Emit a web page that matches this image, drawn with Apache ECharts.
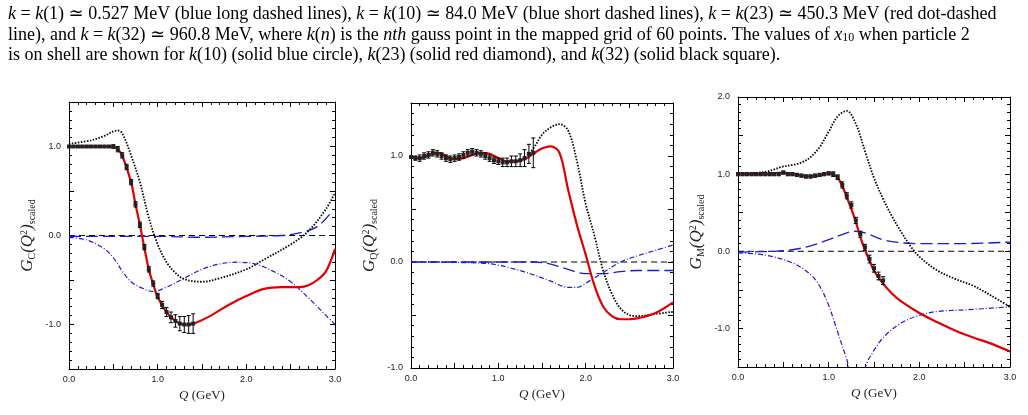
<!DOCTYPE html>
<html><head><meta charset="utf-8">
<script src="https://cdn.jsdelivr.net/npm/echarts@6/dist/echarts.min.js"></script>
<style>html,body{margin:0;padding:0;background:#fff}#c{width:1028px;height:415px}</style>
</head><body><div id="c"></div>
<script>
// ---- data ----
const gcFull=[[0,1.03],[0.25,1.07],[0.4,1.12],[0.5,1.17],[0.55,1.18],[0.6,1.15],[0.7,0.9],[0.8,0.6],[0.9,0.2],[1.0,-0.1],[1.1,-0.3],[1.2,-0.42],[1.3,-0.49],[1.5,-0.52],[1.7,-0.48],[2.0,-0.38],[2.2,-0.27],[2.5,-0.1],[2.7,0.05],[2.9,0.3],[3.0,0.48]];
const gcRed=[[0,1.0],[0.5,1.0],[0.55,0.97],[0.6,0.9],[0.7,0.6],[0.75,0.35],[0.8,0.12],[0.85,-0.14],[0.9,-0.38],[0.95,-0.55],[1.0,-0.69],[1.1,-0.86],[1.2,-0.96],[1.3,-1.0],[1.4,-0.99],[1.6,-0.9],[1.8,-0.78],[2.0,-0.68],[2.2,-0.6],[2.4,-0.58],[2.6,-0.58],[2.7,-0.56],[2.8,-0.5],[2.9,-0.4],[3.0,-0.15]];
const gcLong=[[0,-0.01],[1.0,-0.01],[1.5,-0.02],[2.0,-0.01],[2.4,0.0],[2.6,0.03],[2.8,0.1],[2.95,0.25]];
const gcDotDash=[[0,-0.02],[0.2,-0.05],[0.4,-0.15],[0.5,-0.25],[0.6,-0.4],[0.7,-0.52],[0.8,-0.58],[0.95,-0.63],[1.1,-0.58],[1.3,-0.48],[1.5,-0.38],[1.7,-0.32],[1.9,-0.3],[2.1,-0.32],[2.3,-0.4],[2.5,-0.52],[2.7,-0.7],[2.9,-0.9],[3.0,-1.0]];
const gcPtsX=[0,0.05,0.1,0.15,0.2,0.25,0.3,0.35,0.4,0.45,0.5,0.55,0.6,0.65,0.7,0.75,0.8,0.85,0.9,0.95,1.0,1.05,1.1,1.15,1.2,1.25,1.3,1.35,1.4];
const gcPtsY=[1,1,1,1,1,1,1,1,1,1,1,0.97,0.9,0.77,0.6,0.35,0.12,-0.13,-0.38,-0.54,-0.68,-0.78,-0.86,-0.92,-0.96,-0.99,-1.0,-1.0,-0.99];
const gcPtsE=[0.01,0.01,0.01,0.01,0.01,0.01,0.01,0.01,0.01,0.01,0.02,0.03,0.03,0.03,0.03,0.03,0.03,0.03,0.03,0.03,0.03,0.04,0.05,0.06,0.07,0.08,0.09,0.1,0.11];

const gqFull=[[0,0.99],[0.1,0.98],[0.3,1.03],[0.5,0.97],[0.6,0.98],[0.8,1.03],[0.9,1.02],[1.0,0.98],[1.1,0.95],[1.2,0.95],[1.3,0.98],[1.4,1.07],[1.5,1.2],[1.6,1.27],[1.7,1.3],[1.8,1.24],[1.9,0.95],[2.0,0.55],[2.1,0.25],[2.2,-0.08],[2.3,-0.3],[2.4,-0.44],[2.5,-0.5],[2.6,-0.51],[2.8,-0.49],[3.0,-0.47]];
const gqRed=[[0,0.99],[0.1,0.98],[0.3,1.03],[0.5,0.97],[0.6,0.98],[0.8,1.03],[0.9,1.02],[1.0,0.98],[1.1,0.95],[1.2,0.95],[1.3,0.97],[1.4,1.02],[1.5,1.07],[1.6,1.09],[1.7,1.03],[1.8,0.68],[1.9,0.35],[2.0,0.07],[2.1,-0.22],[2.2,-0.42],[2.3,-0.51],[2.4,-0.54],[2.5,-0.54],[2.6,-0.53],[2.8,-0.48],[3.0,-0.38]];
const gqLong=[[0,0],[1.4,0],[1.6,-0.02],[1.8,-0.07],[2.0,-0.11],[2.2,-0.11],[2.4,-0.09],[2.6,-0.08],[3.0,-0.08]];
const gqDotDash=[[0,0],[0.8,-0.01],[1.0,-0.03],[1.2,-0.07],[1.4,-0.12],[1.6,-0.18],[1.8,-0.24],[1.9,-0.24],[2.0,-0.2],[2.2,-0.1],[2.4,0.0],[2.6,0.06],[2.8,0.11],[3.0,0.16]];
const gqPtsX=[0,0.05,0.1,0.15,0.2,0.25,0.3,0.35,0.4,0.45,0.5,0.55,0.6,0.65,0.7,0.75,0.8,0.85,0.9,0.95,1.0,1.05,1.1,1.15,1.2,1.25,1.3,1.35,1.4];
const gqPtsY=[0.99,0.98,0.98,1.0,1.01,1.03,1.02,1.0,0.98,0.97,0.98,0.99,1.01,1.03,1.04,1.03,1.02,1.0,0.98,0.96,0.95,0.94,0.94,0.95,0.95,0.96,0.98,1.02,1.03];
const gqPtsE=[0.01,0.02,0.03,0.03,0.03,0.03,0.03,0.03,0.03,0.03,0.03,0.03,0.03,0.03,0.03,0.03,0.03,0.03,0.03,0.03,0.03,0.04,0.04,0.05,0.05,0.06,0.08,0.09,0.14];

const gmFull=[[0,1.0],[0.3,1.03],[0.5,1.1],[0.6,1.12],[0.7,1.15],[0.8,1.22],[0.9,1.35],[1.0,1.55],[1.1,1.75],[1.2,1.82],[1.3,1.65],[1.4,1.3],[1.5,0.95],[1.6,0.68],[1.7,0.45],[1.8,0.25],[1.9,0.07],[2.0,-0.07],[2.2,-0.25],[2.4,-0.36],[2.6,-0.45],[2.8,-0.58],[3.0,-0.72]];
const gmRed=[[0,1.0],[0.3,1.0],[0.5,1.02],[0.6,1.0],[0.8,0.97],[0.9,0.98],[1.0,1.01],[1.05,1.0],[1.1,0.95],[1.15,0.85],[1.2,0.7],[1.25,0.55],[1.3,0.38],[1.35,0.18],[1.4,0.02],[1.45,-0.12],[1.5,-0.25],[1.6,-0.42],[1.7,-0.55],[1.8,-0.65],[2.0,-0.8],[2.2,-0.92],[2.4,-1.03],[2.6,-1.12],[2.8,-1.2],[3.0,-1.3]];
const gmLong=[[0,-0.01],[0.4,0.0],[0.6,0.02],[0.8,0.07],[1.0,0.15],[1.2,0.24],[1.3,0.26],[1.4,0.24],[1.6,0.15],[1.8,0.11],[2.0,0.1],[2.5,0.1],[3.0,0.12]];
const gmDotDash=[[0,-0.02],[0.3,-0.05],[0.6,-0.15],[0.8,-0.3],[0.9,-0.45],[1.0,-0.7],[1.1,-1.05],[1.2,-1.4],[1.25,-1.58],[1.35,-1.58],[1.45,-1.38],[1.6,-1.12],[1.8,-0.93],[2.0,-0.83],[2.2,-0.78],[2.5,-0.76],[3.0,-0.72]];
const gmPtsX=[0,0.05,0.1,0.15,0.2,0.25,0.3,0.35,0.4,0.45,0.5,0.55,0.6,0.65,0.7,0.75,0.8,0.85,0.9,0.95,1.0,1.05,1.1,1.15,1.2,1.25,1.3,1.35,1.4,1.45,1.5,1.55,1.6];
const gmPtsY=[1,1,1,1,1,1,1,1,1,1,1.02,1.0,1.0,0.99,0.98,0.97,0.97,0.98,0.99,1.0,1.01,1.0,0.96,0.86,0.72,0.6,0.4,0.22,0.05,-0.1,-0.22,-0.32,-0.38];
const gmPtsE=[0.02,0.02,0.02,0.02,0.02,0.02,0.02,0.02,0.02,0.02,0.02,0.02,0.02,0.02,0.02,0.02,0.02,0.02,0.02,0.02,0.02,0.03,0.03,0.04,0.04,0.04,0.04,0.04,0.04,0.05,0.05,0.05,0.05];

const panels=[
 {full:gcFull,red:gcRed,lng:gcLong,dd:gcDotDash,px:gcPtsX,py:gcPtsY,pe:gcPtsE,ymin:-1.5,ymax:1.5,sub:'C',grid:{left:69,right:693,top:102,bottom:46}},
 {full:gqFull,red:gqRed,lng:gqLong,dd:gqDotDash,px:gqPtsX,py:gqPtsY,pe:gqPtsE,ymin:-1,ymax:1.5,sub:'Q',grid:{left:411,right:355,top:103,bottom:47}},
 {full:gmFull,red:gmRed,lng:gmLong,dd:gmDotDash,px:gmPtsX,py:gmPtsY,pe:gmPtsE,ymin:-1.5,ymax:2,sub:'M',grid:{left:738,right:18,top:97,bottom:48}}
];
// ---- chart ----
const lbl=v=>Math.abs(v-Math.round(v))<1e-6?v.toFixed(1):'';
const grid=[],xAxis=[],yAxis=[],series=[];
const tick={show:true,inside:true,length:5,lineStyle:{color:'#000'}};
const mtick={show:true,splitNumber:5,length:3,lineStyle:{color:'#000'}};
const line={show:true,onZero:false,lineStyle:{color:'#000',width:1}};
const serif='"Liberation Serif","DejaVu Serif",serif';
panels.forEach((p,i)=>{
 grid.push(p.grid);
 xAxis.push({gridIndex:i,type:'value',position:'bottom',min:0,max:3,interval:0.5,axisLine:line,axisTick:tick,minorTick:mtick,splitLine:{show:false},
  axisLabel:{formatter:lbl,color:'#222',fontSize:9,fontFamily:'Liberation Sans',margin:6},
  name:'{i|Q} (GeV)',nameLocation:'middle',nameGap:20,nameTextStyle:{fontFamily:serif,fontSize:13,color:'#222',rich:{i:{fontStyle:'italic',fontFamily:serif,fontSize:13}}}});
 xAxis.push({gridIndex:i,type:'value',position:'top',min:0,max:3,interval:0.5,axisLine:line,axisTick:tick,minorTick:mtick,splitLine:{show:false},axisLabel:{show:false}});
 yAxis.push({gridIndex:i,type:'value',position:'left',min:p.ymin,max:p.ymax,interval:0.5,axisLine:line,axisTick:tick,minorTick:mtick,splitLine:{show:false},
  axisLabel:{formatter:lbl,color:'#222',fontSize:9,fontFamily:'Liberation Sans',margin:8},
  name:'{g|G}{s|'+p.sub+'}{g|(Q}{u|2}{g|)}{s|scaled}',nameLocation:'middle',nameGap:32,nameRotate:90,
  nameTextStyle:{rich:{g:{fontFamily:serif,fontStyle:'italic',fontSize:17,color:'#222'},s:{fontFamily:serif,fontSize:10,color:'#222',verticalAlign:'bottom',padding:[8,0,0,0]},u:{fontFamily:serif,fontSize:10,color:'#222',verticalAlign:'top',padding:[0,0,8,0]}}}});
 yAxis.push({gridIndex:i,type:'value',position:'right',min:p.ymin,max:p.ymax,interval:0.5,axisLine:line,axisTick:tick,minorTick:mtick,splitLine:{show:false},axisLabel:{show:false}});
 const xi=2*i,yi=2*i;
 const L=(data,color,type,w,z)=>({type:'line',xAxisIndex:xi,yAxisIndex:yi,data,smooth:0.35,showSymbol:false,symbol:'none',clip:true,z:z||2,lineStyle:{color,width:w,type}});
 series.push(L([[0,0],[3,0]],'#000',[6,4],1));
 series.push(L(p.lng,'#1a1adb',[12,5],1.3));
 series.push(L(p.dd,'#1a1adb',[5,2,1,2],1.2));
 series.push(L(p.full,'#000',[1.5,1.5],1.8));
 series.push(L(p.red,'#e00000','solid',2.2,3));
 const pts=p.px.map((x,k)=>[x,p.py[k],p.pe[k]]);
 series.push({type:'custom',xAxisIndex:xi,yAxisIndex:yi,data:pts,z:4,renderItem:(params,api)=>{
  const x=api.value(0),y=api.value(1),e=api.value(2);
  const a=api.coord([x,y+e]),b=api.coord([x,y-e]),c=api.coord([x,y]);
  const st={stroke:'#000',lineWidth:1};
  return {type:'group',children:[
   {type:'line',shape:{x1:a[0],y1:a[1],x2:b[0],y2:b[1]},style:st},
   {type:'line',shape:{x1:a[0]-2,y1:a[1],x2:a[0]+2,y2:a[1]},style:st},
   {type:'line',shape:{x1:b[0]-2,y1:b[1],x2:b[0]+2,y2:b[1]},style:st},
   {type:'rect',shape:{x:c[0]-2,y:c[1]-2,width:4,height:4},style:{fill:'#222'}}]};
 }});
});
const FS=18;
const R={i:{fontStyle:'italic',fontFamily:serif,fontSize:FS,color:'#000'},s:{fontFamily:serif,fontSize:12,color:'#000',verticalAlign:'bottom'}};
const T=(y,text)=>({type:'text',left:8,top:y,style:{rich:R,text,font:FS+'px '+serif,fill:'#000'}});
const captionLines=[
 '{i|k} = {i|k}(1) ≃ 0.527 MeV (blue long dashed lines), {i|k} = {i|k}(10) ≃ 84.0 MeV (blue short dashed lines), {i|k} = {i|k}(23) ≃ 450.3 MeV (red dot-dashed',
 'line), and {i|k} = {i|k}(32) ≃ 960.8 MeV, where {i|k}({i|n}) is the {i|nth} gauss point in the mapped grid of 60 points. The values of {i|x}{s|10} when particle 2',
 'is on shell are shown for {i|k}(10) (solid blue circle), {i|k}(23) (solid red diamond), and {i|k}(32) (solid black square).'];
const chart=echarts.init(document.getElementById('c'),null,{renderer:'canvas'});
chart.setOption({animation:false,grid,xAxis,yAxis,series,
 graphic:[T(5,captionLines[0]),T(26,captionLines[1]),T(46,captionLines[2])]});
</script></body></html>
